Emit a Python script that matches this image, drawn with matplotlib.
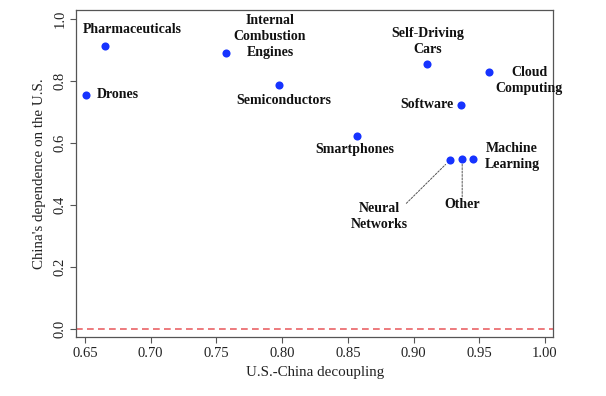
import matplotlib
matplotlib.use("Agg")
import matplotlib.pyplot as plt

# data
names = ["Pharmaceuticals", "Drones", "Internal\nCombustion\nEngines", "Semiconductors",
         "Self-Driving\nCars", "Cloud\nComputing", "Software", "Smartphones",
         "Machine\nLearning", "Neural\nNetworks", "Other"]
decoupling = [0.665, 0.651, 0.7575, 0.798, 0.9105, 0.9577, 0.9364, 0.8567, 0.945, 0.928, 0.937]
dependence = [0.913, 0.755, 0.889, 0.786, 0.856, 0.828, 0.724, 0.623, 0.547, 0.546, 0.549]

# label offsets (points) and alignment
offsets = [(19.8, 11.5), (7.4, 0), (31.5, 12.5), (3, -10.6), (0.3, 16.1), (28.6, -5.8),
           (-6, 0), (-1.2, -10.1), (28.3, 2.2), (-50.9, -41), (0.3, -32.6)]
aligns = ["center", "left", "center", "center", "center", "center",
          "right", "center", "center", "center", "center"]

plt.rcParams["font.family"] = ["Liberation Serif", "DejaVu Serif"]

fig = plt.figure(figsize=(6.06, 3.96), dpi=100)
ax = fig.add_axes([0.1254, 0.1482, 0.7876, 0.8265])

ax.axhline(0, color="#e8565a", lw=1.1, ls=(0, (4.4, 2.8)), zorder=1)
ax.scatter(decoupling, dependence, s=34, color="#1633ff", zorder=3, linewidths=0)

for name, x, y, off, ha in zip(names, decoupling, dependence, offsets, aligns):
    ax.annotate(name, (x, y), xytext=off, textcoords="offset points",
                ha=ha, va="center", fontsize=10, fontweight="bold",
                linespacing=1.3, color="#111111")

# leader lines for the crowded cluster
ax.annotate("", (decoupling[9], dependence[9]), xytext=(-31.7, -31.4), textcoords="offset points",
            arrowprops=dict(arrowstyle="-", ls=(0, (2, 1.5)), lw=0.7, color="#555555",
                            shrinkA=0, shrinkB=4.8))
ax.annotate("", (decoupling[10], dependence[10]), xytext=(0, -27.4), textcoords="offset points",
            arrowprops=dict(arrowstyle="-", ls=(0, (2, 1.5)), lw=0.7, color="#555555",
                            shrinkA=0, shrinkB=3.3))

ax.set_xlim(0.6432, 1.0063)
ax.set_ylim(-0.027, 1.029)
ax.set_xticks([0.65, 0.70, 0.75, 0.80, 0.85, 0.90, 0.95, 1.00])
ax.set_xticklabels(["0.65", "0.70", "0.75", "0.80", "0.85", "0.90", "0.95", "1.00"])
ax.set_yticks([0.0, 0.2, 0.4, 0.6, 0.8, 1.0])
ax.set_yticklabels(["0.0", "0.2", "0.4", "0.6", "0.8", "1.0"], rotation=90, va="center")

for s in ax.spines.values():
    s.set_color("#555555")
    s.set_linewidth(0.9)
ax.tick_params(direction="out", length=4, width=0.8, color="#555555",
               labelsize=10.5, labelcolor="#222222", pad=3)

ax.set_xlabel("U.S.-China decoupling", fontsize=10.8, color="#222222", labelpad=4)
ax.set_ylabel("China's dependence on the U.S.", fontsize=10.8, color="#222222", labelpad=5)

fig.savefig("out.png", dpi=100)
